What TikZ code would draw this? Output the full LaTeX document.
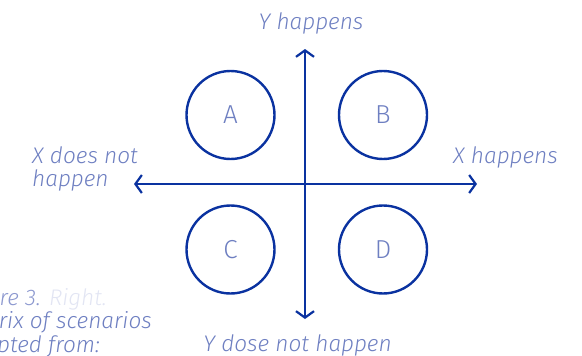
\documentclass[tikz,border=0pt]{standalone}
\usepackage{fontspec}
\setmainfont{Fira Sans Light}
\usetikzlibrary{arrows.meta}
\definecolor{stroke}{HTML}{0A32A0}
\definecolor{lbl}{HTML}{6E7FC1}
\definecolor{lbllight}{HTML}{8C98CF}
\definecolor{faint}{HTML}{E2E5F3}
\tikzset{
  axis/.style={draw=stroke, line width=2.2pt, -{Straight Barb[length=6.5pt,width=18pt,line width=2.2pt]}},
  scen/.style={circle, draw=stroke, line width=2.4pt, minimum size=88pt, inner sep=0pt, text=lbl, font=\fontsize{26}{26}\selectfont},
  axlbl/.style={text=lbl, inner sep=0pt, font=\fontsize{22.6}{24}\selectfont\itshape},
}
\begin{document}
\begin{tikzpicture}[x=1pt,y=-1pt]
\useasboundingbox (0,0) rectangle (582,356);
\clip (0,0) rectangle (582,356);
% circles
\node[scen] (A) at (230.5,115) {A};
\node[scen] (B) at (383,115) {B};
\node[scen] (C) at (230.5,249.5) {C};
\node[scen] (D) at (383,249.5) {D};
% axes
\coordinate (ctr) at (305,184);
\coordinate (top) at (305,49);
\coordinate (bot) at (305,319);
\coordinate (lft) at (134,184);
\coordinate (rgt) at (477,184);
\draw[axis] (ctr) -- (top);
\draw[axis] (ctr) -- (bot);
\draw[axis] (ctr) -- (lft);
\draw[axis] (ctr) -- (rgt);
% labels
\node[axlbl, anchor=base] (yh) at (311,29) {Y happens};
\node[axlbl, anchor=base] (yn) at (297.5,351) {Y dose not happen};
\node[axlbl, anchor=base west] (xh) at (453,163) {X happens};
\node[axlbl, anchor=base west] (xn1) at (32,163) {X does not};
\node[axlbl, anchor=base west] (xn2) at (32,186) {happen};
% clipped caption
\node[axlbl, anchor=base east] (cap1) at (107,305) {\textcolor{lbllight}{Figure 3.} \textcolor{faint}{Right.}};
\node[axlbl, anchor=base east] (cap2) at (152,328) {Matrix of scenarios};
\node[axlbl, anchor=base east] (cap3) at (100,352) {adapted from:};
\end{tikzpicture}
\end{document}
